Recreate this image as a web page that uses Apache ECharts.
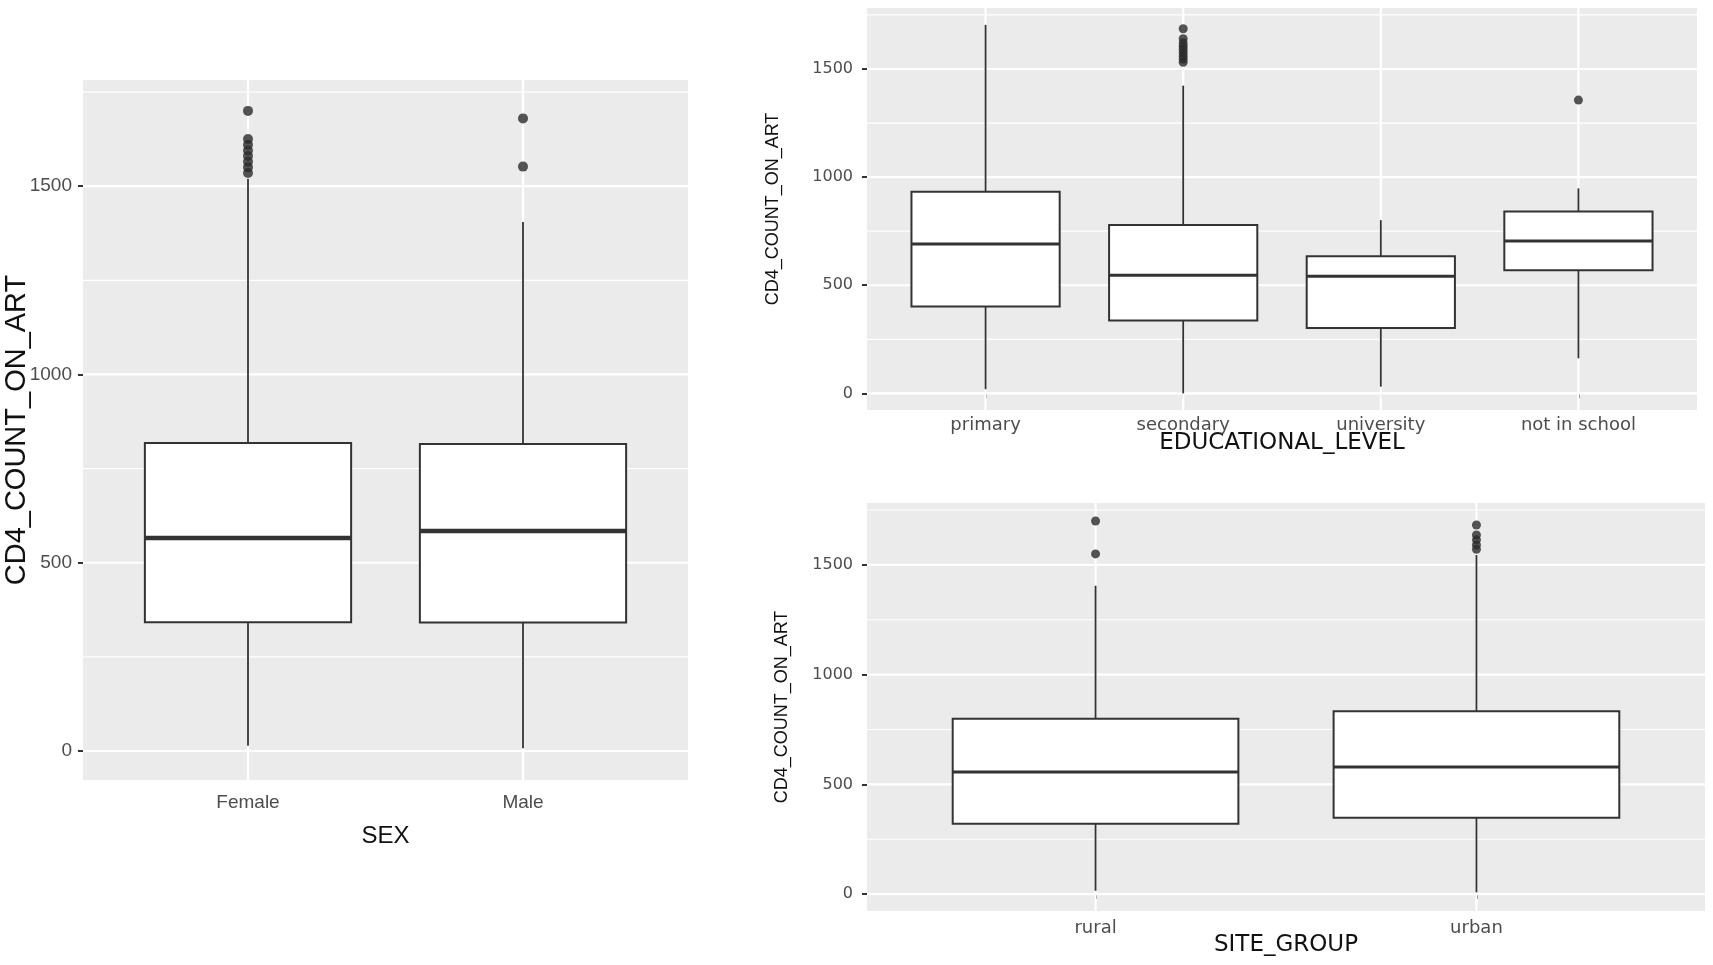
<!DOCTYPE html>
<html>
<head>
<meta charset="utf-8">
<script src="https://cdn.jsdelivr.net/npm/echarts@6/dist/echarts.min.js"></script>
<style>
  html, body { margin: 0; padding: 0; background: #fff; }
  #main { width: 1713px; height: 965px; }
</style>
</head>
<body>
<div id="main"></div>
<script>
var chartDom = document.getElementById('main');
var myChart = echarts.init(chartDom);

// y scale shared by the three panels
var yTicks = [0, 500, 1000, 1500];
var yMinorTicks = [250, 750, 1250, 1750];
var yMin = -77;
var yMax = 1782;

// box stats: [lower whisker, Q1, median, Q3, upper whisker]
var sexCategories = ['Female', 'Male'];
var sexBoxes = [
  [14, 342, 566, 818, 1520],
  [7, 341, 584, 815, 1405]
];
var sexOutliers = [
  [1535, 1550, 1565, 1580, 1595, 1610, 1625, 1700],
  [1552, 1680]
];

var eduCategories = ['primary', 'secondary', 'university', 'not in school'];
var eduBoxes = [
  [19, 402, 691, 932, 1704],
  [0, 337, 546, 778, 1423],
  [31, 302, 541, 634, 801],
  [162, 569, 704, 841, 948]
];
var eduOutliers = [
  [],
  [1531, 1546, 1560, 1575, 1590, 1605, 1620, 1640, 1686],
  [],
  [1356]
];

var siteCategories = ['rural', 'urban'];
var siteBoxes = [
  [15, 321, 556, 799, 1405],
  [8, 348, 579, 833, 1545]
];
var siteOutliers = [
  [1550, 1700],
  [1571, 1591, 1614, 1636, 1682]
];

var narrowFont = "'Liberation Sans Narrow', 'Liberation Sans', sans-serif";
var plainFont = "'Liberation Sans', Arial, sans-serif";
var wideFont = "'DejaVu Sans', sans-serif";

var option = {
  animation: false,
  backgroundColor: '#fff',
  grid: [],
  xAxis: [],
  yAxis: [],
  series: []
};

function positions(cats) {
  return cats.map(function (c, i) { return i + 1; });
}

// white panel grid lines (ggplot style)
function gridLineSeries(idx, values, vertical, width) {
  return {
    type: 'custom',
    xAxisIndex: idx,
    yAxisIndex: idx,
    silent: true,
    z: 1,
    data: values.map(function (v) { return vertical ? [v, 0] : [1, v]; }),
    renderItem: function (params, api) {
      var cs = params.coordSys;
      var p = api.coord([api.value(0), api.value(1)]);
      var shape = vertical
        ? {x1: p[0], y1: cs.y, x2: p[0], y2: cs.y + cs.height}
        : {x1: cs.x, y1: p[1], x2: cs.x + cs.width, y2: p[1]};
      return {type: 'line', shape: shape, style: {stroke: '#ffffff', lineWidth: width}};
    }
  };
}

// box + whiskers, no end caps
function boxSeries(idx, boxes, medianWidth) {
  var half = 0.375;
  return {
    type: 'custom',
    xAxisIndex: idx,
    yAxisIndex: idx,
    z: 3,
    data: boxes.map(function (b, i) { return [i + 1].concat(b); }),
    encode: {x: 0, y: [1, 2, 3, 4, 5]},
    renderItem: function (params, api) {
      var x = api.value(0);
      var lo = api.coord([x, api.value(1)]);
      var q1 = api.coord([x - half, api.value(2)]);
      var m1 = api.coord([x - half, api.value(3)]);
      var m2 = api.coord([x + half, api.value(3)]);
      var q3 = api.coord([x + half, api.value(4)]);
      var hi = api.coord([x, api.value(5)]);
      var ink = '#333333';
      return {
        type: 'group',
        children: [
          {type: 'line', shape: {x1: lo[0], y1: lo[1], x2: lo[0], y2: q1[1]}, style: {stroke: ink, lineWidth: 1.8}},
          {type: 'line', shape: {x1: hi[0], y1: hi[1], x2: hi[0], y2: q3[1]}, style: {stroke: ink, lineWidth: 1.8}},
          {type: 'rect', shape: {x: q1[0], y: q3[1], width: q3[0] - q1[0], height: q1[1] - q3[1]},
            style: {fill: '#ffffff', stroke: ink, lineWidth: 2}},
          {type: 'line', shape: {x1: m1[0], y1: m1[1], x2: m2[0], y2: m2[1]}, style: {stroke: ink, lineWidth: medianWidth}}
        ]
      };
    }
  };
}

function outlierSeries(idx, outliers, size) {
  var pts = [];
  outliers.forEach(function (list, i) {
    list.forEach(function (v) { pts.push([i + 1, v]); });
  });
  return {
    type: 'scatter',
    xAxisIndex: idx,
    yAxisIndex: idx,
    z: 4,
    symbol: 'circle',
    symbolSize: size,
    itemStyle: {color: '#2b2b2b'},
    data: pts
  };
}

function addPanel(idx, cats, boxes, outliers, xName, look) {
  var xs = positions(cats);
  option.grid.push({
    left: look.left, top: look.top, width: look.width, height: look.height,
    show: true, backgroundColor: '#EBEBEB', borderWidth: 0,
    outerBoundsMode: 'none'
  });
  option.xAxis.push({
    type: 'value',
    gridIndex: idx,
    min: 0.4,
    max: cats.length + 0.6,
    name: xName,
    nameLocation: 'middle',
    nameGap: look.xNameGap,
    nameMoveOverlap: false,
    nameTextStyle: {color: '#111', fontFamily: look.xNameFont, fontSize: look.xNameSize},
    axisLine: {show: false},
    splitLine: {show: false},
    axisTick: {show: true, customValues: xs, length: 5, lineStyle: {color: '#333', width: 2}},
    axisLabel: {
      customValues: xs,
      margin: look.xLabelMargin,
      color: '#4D4D4D',
      fontFamily: look.xLabelFont,
      fontSize: look.xLabelSize,
      formatter: function (v) { return cats[Math.round(v) - 1]; }
    }
  });
  option.yAxis.push({
    type: 'value',
    gridIndex: idx,
    min: yMin,
    max: yMax,
    name: 'CD4_COUNT_ON_ART',
    nameLocation: 'middle',
    nameGap: look.yNameGap,
    nameMoveOverlap: false,
    nameTextStyle: {color: '#111', fontFamily: look.yNameFont, fontSize: look.yNameSize},
    axisLine: {show: false},
    splitLine: {show: false},
    axisTick: {show: true, customValues: yTicks, length: 5, lineStyle: {color: '#333', width: 2}},
    axisLabel: {
      customValues: yTicks,
      margin: look.yLabelMargin,
      color: '#4D4D4D',
      fontFamily: look.yLabelFont,
      fontSize: look.yLabelSize,
      formatter: function (v) { return String(v); }  // no thousands separator
    }
  });
  option.series.push(gridLineSeries(idx, yMinorTicks, false, 1.2));
  option.series.push(gridLineSeries(idx, yTicks, false, 2.2));
  option.series.push(gridLineSeries(idx, xs, true, 2.2));
  option.series.push(boxSeries(idx, boxes, look.median));
  option.series.push(outlierSeries(idx, outliers, look.dot));
}

addPanel(0, sexCategories, sexBoxes, sexOutliers, 'SEX', {
  left: 83, top: 80, width: 605, height: 700,
  xNameGap: 44, xNameFont: narrowFont, xNameSize: 24,
  xLabelMargin: 13, xLabelFont: narrowFont, xLabelSize: 19,
  yNameGap: 52, yNameFont: plainFont, yNameSize: 29,
  yLabelMargin: 11, yLabelFont: narrowFont, yLabelSize: 19,
  median: 4.5, dot: 10
});

addPanel(1, eduCategories, eduBoxes, eduOutliers, 'EDUCATIONAL_LEVEL', {
  left: 867, top: 8, width: 830, height: 402,
  xNameGap: 22, xNameFont: wideFont, xNameSize: 23,
  xLabelMargin: 6, xLabelFont: wideFont, xLabelSize: 18,
  yNameGap: 85, yNameFont: plainFont, yNameSize: 18,
  yLabelMargin: 14, yLabelFont: wideFont, yLabelSize: 16,
  median: 3, dot: 9
});

addPanel(2, siteCategories, siteBoxes, siteOutliers, 'SITE_GROUP', {
  left: 867, top: 503, width: 838, height: 408,
  xNameGap: 23, xNameFont: wideFont, xNameSize: 23,
  xLabelMargin: 8, xLabelFont: wideFont, xLabelSize: 18,
  yNameGap: 76, yNameFont: plainFont, yNameSize: 18,
  yLabelMargin: 14, yLabelFont: wideFont, yLabelSize: 16,
  median: 3, dot: 9
});

myChart.setOption(option);
</script>
</body>
</html>
